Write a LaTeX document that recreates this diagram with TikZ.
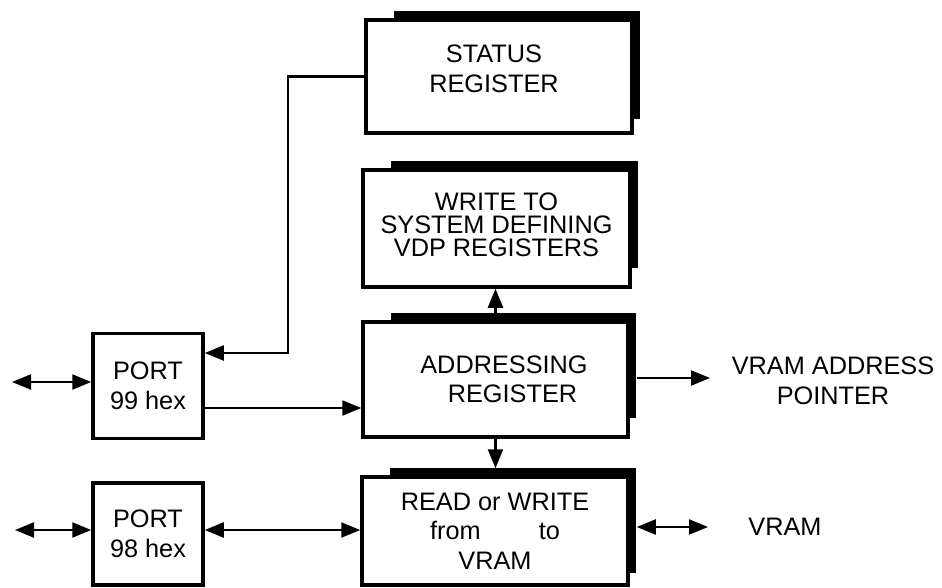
\documentclass[tikz,border=0pt]{standalone}
\usepackage{fontspec}
\setmainfont{Liberation Sans}
\usetikzlibrary{arrows.meta}
\pgfdeclarelayer{bg}
\pgfsetlayers{bg,main}
\newcommand\regshadow[2]{\fill ([xshift=30pt,yshift=7pt]#1.north west) rectangle ([xshift=6.5pt,yshift=#2]#1.south east);}
\begin{document}
\begin{tikzpicture}[x=1pt,y=-1pt,
  conn/.style={line width=2.2pt},
  tip/.style={-{Triangle[length=19pt,width=15pt]}},
  bitip/.style={{Triangle[length=19pt,width=15pt]}-{Triangle[length=19pt,width=15pt]}},
  regbox/.style={draw, line width=3.5pt, fill=white, align=center, inner sep=0pt,
    font=\fontsize{25.3}{29.5}\selectfont},
  portbox/.style={regbox, minimum width=110pt, minimum height=105pt},
  lbl/.style={align=center, inner sep=0pt, font=\fontsize{25.3}{29.5}\selectfont}]
\useasboundingbox (0,0) rectangle (942,588);

\node[regbox, minimum width=266pt, minimum height=113pt] (st) at (499,76.5) {};
\node[lbl] (sttext) at (494,69) {STATUS\\REGISTER};
\node[regbox, minimum width=267pt, minimum height=117pt] (wr) at (496.5,228.5) {};
\node[lbl, font=\fontsize{25.3}{23}\selectfont] (wrtext) at (496.5,225) {WRITE TO\\SYSTEM DEFINING\\VDP REGISTERS};
\node[regbox, minimum width=265pt, minimum height=115pt] (ad) at (495.5,379.5) {\hspace*{17pt}ADDRESSING\\\hspace*{34pt}REGISTER};
\node[regbox, minimum width=266pt, minimum height=108pt] (rd) at (495,531) {READ or WRITE\\from\hspace{2.3em}to\\VRAM};
\node[portbox] (p99) at (148,386) {PORT\\99 hex};
\node[portbox, minimum height=102pt] (p98) at (148,534) {PORT\\98 hex};
\node[lbl] (ptr) at (833,381) {VRAM ADDRESS\\POINTER};
\node[lbl] (vram) at (785,527) {VRAM};

\begin{pgfonlayer}{bg}
\fill[white] (0,0) rectangle (942,588);
\regshadow{st}{16pt}
\regshadow{wr}{20.5pt}
\regshadow{ad}{20.5pt}
\regshadow{rd}{13.5pt}
\end{pgfonlayer}

\coordinate (bend) at (288,353);
\draw[conn,tip] (st.west) -| (bend) -- (bend -| p99.east);
\coordinate (p99o) at ([yshift=-22pt]p99.east);
\draw[conn,tip] (p99o) -- (p99o -| ad.west);
\coordinate (l99) at (12,382);
\draw[conn,bitip] (l99) -- (l99 -| p99.west);
\coordinate (l98) at (15,530);
\draw[conn,bitip] (l98) -- (l98 -| p98.west);
\draw[conn,bitip] (l98 -| p98.east) -- (l98 -| rd.west);
\coordinate (adtop) at ([yshift=7pt]ad.north);
\draw[conn,tip] (adtop) -- (adtop |- wr.south);
\coordinate (rdtop) at ([yshift=7pt]rd.north);
\draw[conn,tip] (ad.south) -- (ad.south |- rdtop);
\coordinate (a0) at ([xshift=7pt]ad.east);
\coordinate (a1) at (710,378);
\draw[conn,tip] (a0 |- a1) -- (a1);
\coordinate (r0) at ([xshift=7pt]rd.east);
\coordinate (v1) at (708,527);
\draw[conn,bitip] (r0 |- v1) -- (v1);
\end{tikzpicture}
\end{document}
